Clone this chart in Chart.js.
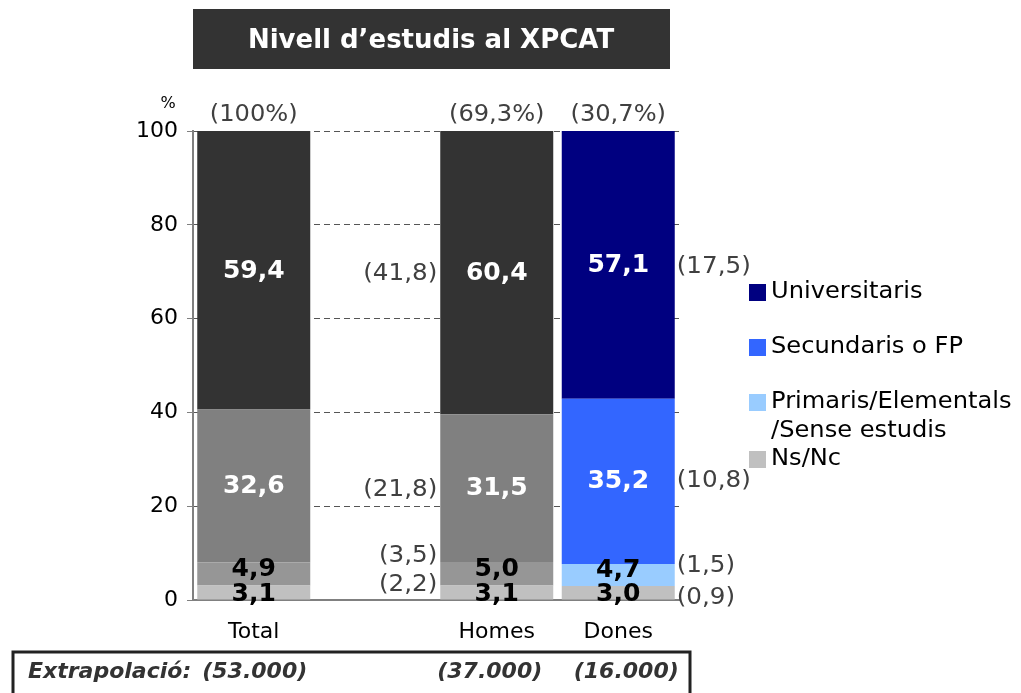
<!DOCTYPE html>
<html>
<head>
<meta charset="utf-8">
<script src="https://cdn.jsdelivr.net/npm/chart.js@4"></script>
<style>
  body { margin: 0; background: #fff; }
  canvas { display: block; }
</style>
</head>
<body>
<canvas id="chart" width="1021" height="693"></canvas>
<script>
// categories (empty slot between Total and Homes)
const categories = ['Total', '', 'Homes', 'Dones'];
// series, bottom to top
const seriesNames = ['Ns/Nc', 'Primaris/Elementals\n/Sense estudis', 'Secundaris o FP', 'Universitaris'];
const nsnc = [3.1, null, 3.1, 3.0];
const primaris = [4.9, null, 5.0, 4.7];
const secundaris = [32.6, null, 31.5, 35.2];
const universitaris = [59.4, null, 60.4, 57.1];
// values shown in brackets beside the bars (same order as series)
const homesAbs = [2.2, 3.5, 21.8, 41.8];
const donesAbs = [0.9, 1.5, 10.8, 17.5];
// shares above the bars
const shares = ['100%', null, '69,3%', '30,7%'];
// extrapolation row
const extrapolacio = ['53.000', null, '37.000', '16.000'];
const yTicks = [0, 20, 40, 60, 80, 100];

const grayCols = ['#c0c0c0', '#969696', '#808080', '#333333'];
const blueCols = ['#c0c0c0', '#99ccff', '#3366ff', '#000080'];
const labelCols = ['#000', '#000', '#fff', '#fff'];
const FONT = '"DejaVu Sans", Verdana, sans-serif';

function fmt(v) { return v.toFixed(1).replace('.', ','); }

// text with a slight horizontal stretch (Verdana-like width)
function txt(ctx, s, x, y, align, sx) {
  ctx.save();
  ctx.translate(x, y);
  ctx.scale(sx, 1);
  ctx.textAlign = align;
  ctx.fillText(s, 0, 0);
  ctx.restore();
}

const values = [nsnc, primaris, secundaris, universitaris];
const datasets = values.map((data, i) => ({
  label: seriesNames[i],
  data: data,
  backgroundColor: categories.map(c => c === 'Dones' ? blueCols[i] : grayCols[i]),
  borderWidth: 0,
  barPercentage: 0.93,
  categoryPercentage: 1.0
}));

const extras = {
  id: 'extras',
  afterDraw(chart) {
    const ctx = chart.ctx;
    const x = chart.scales.x, y = chart.scales.y;
    ctx.save();
    ctx.textBaseline = 'middle';

    // title box
    ctx.fillStyle = '#333333';
    ctx.fillRect(193, 9, 477, 60);
    ctx.fillStyle = '#fff';
    ctx.font = 'bold 26px ' + FONT;
    txt(ctx, 'Nivell d\u2019estudis al XPCAT', 431, 41, 'center', 1);

    // % unit
    ctx.fillStyle = '#000';
    ctx.font = '16px ' + FONT;
    txt(ctx, '%', 168, 104, 'center', 1);

    // bar value labels
    ctx.font = 'bold 25px ' + FONT;
    const nudge = [2, -4, 0, 1];
    chart.data.datasets.forEach((ds, di) => {
      const meta = chart.getDatasetMeta(di);
      meta.data.forEach((bar, i) => {
        const v = ds.data[i];
        if (v == null) return;
        ctx.fillStyle = labelCols[di];
        txt(ctx, fmt(v), bar.x, (bar.y + bar.base) / 2 + nudge[di], 'center', 1);
      });
    });

    // bracketed values beside Homes and Dones
    ctx.font = '23px ' + FONT;
    ctx.fillStyle = '#404040';
    const hi = categories.indexOf('Homes'), di2 = categories.indexOf('Dones');
    const homesNudge = [-7, -18, 2, 1];
    const donesNudge = [5, -9, 0, 2];
    homesAbs.forEach((v, si) => {
      const bar = chart.getDatasetMeta(si).data[hi];
      txt(ctx, '(' + fmt(v) + ')', bar.x - bar.width / 2 - 3, (bar.y + bar.base) / 2 + homesNudge[si], 'right', 1.07);
    });
    donesAbs.forEach((v, si) => {
      const bar = chart.getDatasetMeta(si).data[di2];
      txt(ctx, '(' + fmt(v) + ')', bar.x + bar.width / 2 + 2, (bar.y + bar.base) / 2 + donesNudge[si], 'left', 1.07);
    });

    // shares above bars
    shares.forEach((s, i) => {
      if (!s) return;
      txt(ctx, '(' + s + ')', x.getPixelForValue(i), y.getPixelForValue(100) - 16, 'center', 1.05);
    });

    // legend (top series first)
    ctx.font = '23px ' + FONT;
    const rows = [292, 347, 402, 459];
    for (let k = 0; k < 4; k++) {
      const si = 3 - k;
      ctx.fillStyle = blueCols[si];
      ctx.fillRect(749, rows[k] - 8, 17, 17);
      ctx.fillStyle = '#000';
      seriesNames[si].split('\n').forEach((ln, j) => {
        txt(ctx, ln, 771, rows[k] + j * 29, 'left', 1.05);
      });
    }

    // extrapolation box
    ctx.strokeStyle = '#222';
    ctx.lineWidth = 3;
    ctx.strokeRect(13, 652, 677, 44);
    ctx.fillStyle = '#333';
    ctx.font = 'italic bold 22px ' + FONT;
    txt(ctx, 'Extrapolaci\u00f3:', 28, 672, 'left', 1);
    const exNudge = [1, 0, -7, 8];
    extrapolacio.forEach((e, i) => {
      if (!e) return;
      txt(ctx, '(' + e + ')', x.getPixelForValue(i) + exNudge[i], 672, 'center', 1);
    });
    ctx.restore();
  }
};

new Chart(document.getElementById('chart'), {
  type: 'bar',
  data: { labels: categories, datasets: datasets },
  options: {
    responsive: false,
    animation: false,
    layout: { padding: { top: 131, right: 342, left: 0, bottom: 0 } },
    plugins: { legend: { display: false }, tooltip: { enabled: false }, title: { display: false } },
    scales: {
      x: {
        stacked: true,
        grid: { display: false },
        border: { display: true, color: '#808080', width: 2 },
        ticks: { color: '#000', font: { family: FONT, size: 22 }, padding: 11 },
        afterFit(s) { s.height = 93; }
      },
      y: {
        stacked: true,
        min: 0, max: 100,
        afterBuildTicks(s) { s.ticks = yTicks.map(v => ({ value: v })); },
        grid: { color: '#555', tickColor: '#808080', tickLength: 6, lineWidth: 1 },
        border: { display: true, color: '#808080', width: 2, dash: [6, 4] },
        ticks: { color: '#000', font: { family: FONT, size: 22 }, padding: 9 },
        afterFit(s) { s.width = 193; }
      }
    }
  },
  plugins: [extras]
});
</script>
</body>
</html>
